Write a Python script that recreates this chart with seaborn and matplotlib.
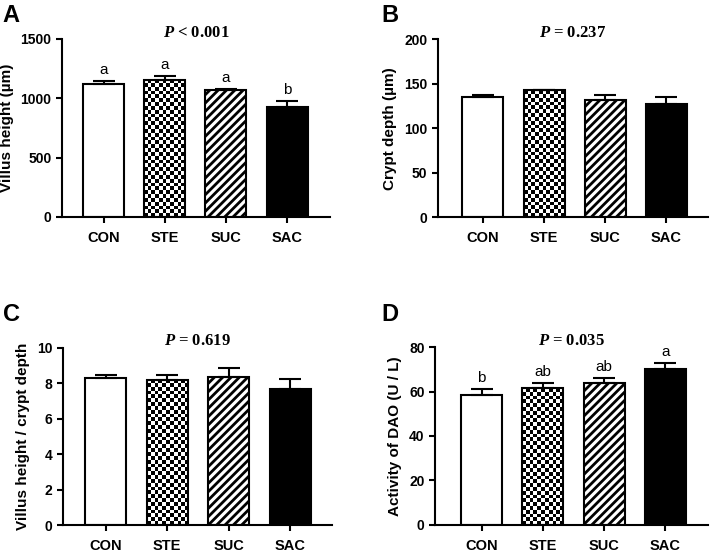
import matplotlib
matplotlib.use('Agg')
import matplotlib.pyplot as plt
import numpy as np
import pandas as pd
import seaborn as sns

# group names
groups = ['CON', 'STE', 'SUC', 'SAC']

# panel A - villus height
villus_mean = [1118, 1157, 1070, 930]
villus_sem = [28, 29, 9, 50]
villus_letters = ['a', 'a', 'a', 'b']

# panel B - crypt depth
crypt_mean = [135.3, 142.4, 131.9, 127.4]
crypt_sem = [1.5, 0.8, 5.3, 7.2]

# panel C - villus height / crypt depth
ratio_mean = [8.28, 8.20, 8.33, 7.66]
ratio_sem = [0.18, 0.26, 0.53, 0.56]

# panel D - DAO activity
dao_mean = [58.4, 61.7, 64.1, 70.4]
dao_sem = [2.7, 2.1, 2.1, 2.4]
dao_letters = ['b', 'ab', 'ab', 'a']

sns.set_style('ticks')
plt.rcParams['font.family'] = ['Liberation Sans', 'DejaVu Sans']
plt.rcParams['hatch.linewidth'] = 2.0
plt.rcParams['axes.linewidth'] = 1.5
# everything pure black, seaborn default is dark grey
for key in ['text.color', 'axes.labelcolor', 'axes.edgecolor', 'xtick.color', 'ytick.color']:
    plt.rcParams[key] = 'black'
# italic bold P in Times-like font
plt.rcParams['mathtext.fontset'] = 'custom'
plt.rcParams['mathtext.it'] = 'Liberation Serif:italic:bold'
plt.rcParams['mathtext.rm'] = 'Liberation Serif:bold'

fig = plt.figure(figsize=(7.11, 5.53), dpi=100)


def checker(ax, patch, size_px=3.8):
    # draw a checkerboard inside a bar (clipped to the bar patch)
    fig.canvas.draw()
    x0, y0 = patch.get_x(), patch.get_y()
    x1, y1 = x0 + patch.get_width(), y0 + patch.get_height()
    p0 = ax.transData.transform((x0, y0))
    p1 = ax.transData.transform((x1, y1))
    nx = max(1, int(round(abs(p1[0] - p0[0]) / size_px)))
    ny = max(1, int(round(abs(p1[1] - p0[1]) / size_px)))
    grid = (np.indices((ny, nx)).sum(axis=0) % 2).astype(float)
    im = ax.imshow(grid, cmap='gray', extent=(x0, x1, y0, y1), aspect='auto',
                   interpolation='nearest', zorder=0.9, origin='lower')
    im.set_clip_path(patch)


def panel(rect, means, sems, ylabel, ylim, step, ptext, xlim, letters=None):
    ax = fig.add_axes(rect)
    df = pd.DataFrame({'group': groups, 'value': means})
    sns.barplot(data=df, x='group', y='value', ax=ax, errorbar=None,
                width=0.67, edgecolor='black', linewidth=1.5)
    fills = ['white', 'none', 'white', 'black']
    hatches = ['', '', '////', '']
    for bar, fc, h in zip(ax.patches, fills, hatches):
        bar.set_facecolor(fc)
        bar.set_hatch(h)
        bar.set_edgecolor('black')
        bar.set_zorder(2)
    ax.errorbar(range(len(groups)), means, yerr=[np.zeros(len(sems)), sems],
                fmt='none', ecolor='black', elinewidth=1.5, capsize=8,
                capthick=1.5, zorder=3)
    ax.set_xlim(*xlim)
    ax.set_ylim(*ylim)
    ax.set_yticks(np.arange(ylim[0], ylim[1] + step / 2, step))
    ax.set_xlabel('')
    ax.set_ylabel(ylabel, fontsize=11, fontweight='bold', labelpad=5)
    sns.despine(ax=ax)
    ax.tick_params(axis='both', width=1.5, length=4)
    ax.tick_params(axis='y', labelsize=10)
    ax.tick_params(axis='x', labelsize=10.5, pad=6)
    for lab in ax.get_xticklabels() + ax.get_yticklabels():
        lab.set_fontweight('bold')
    ax.text(0.5, 0.99, ptext, transform=ax.transAxes, ha='center', va='bottom',
            fontsize=12, fontweight='bold', family=['Liberation Serif', 'DejaVu Serif'])
    if letters:
        for i, (m, s, t) in enumerate(zip(means, sems, letters)):
            ax.annotate(t, (i, m + s), xytext=(0, 3), textcoords='offset points',
                        ha='center', va='bottom', fontsize=11)
    checker(ax, ax.patches[1])
    return ax


panel([0.0872, 0.6076, 0.3769, 0.3219], villus_mean, villus_sem,
      'Villus height (µm)', (0, 1500), 500, r'$P$ < 0.001',
      (-0.68, 3.70), villus_letters)
panel([0.6156, 0.6070, 0.3800, 0.3224], crypt_mean, crypt_sem,
      'Crypt depth (µm)', (0, 200), 50, r'$P$ = 0.237',
      (-0.74, 3.68))
panel([0.0886, 0.0501, 0.3780, 0.3212], ratio_mean, ratio_sem,
      'Villus height / crypt depth', (0, 10), 2, r'$P$ = 0.619',
      (-0.69, 3.67))
panel([0.6118, 0.0512, 0.3835, 0.3208], dao_mean, dao_sem,
      'Activity of DAO (U / L)', (0, 80), 20, r'$P$ = 0.035',
      (-0.76, 3.69), dao_letters)

for x, y, t in [(0.004, 0.992, 'A'), (0.537, 0.992, 'B'),
                (0.004, 0.452, 'C'), (0.537, 0.452, 'D')]:
    fig.text(x, y, t, fontsize=17, fontweight='bold', va='top', ha='left')

fig.savefig('out.png', dpi=100)
